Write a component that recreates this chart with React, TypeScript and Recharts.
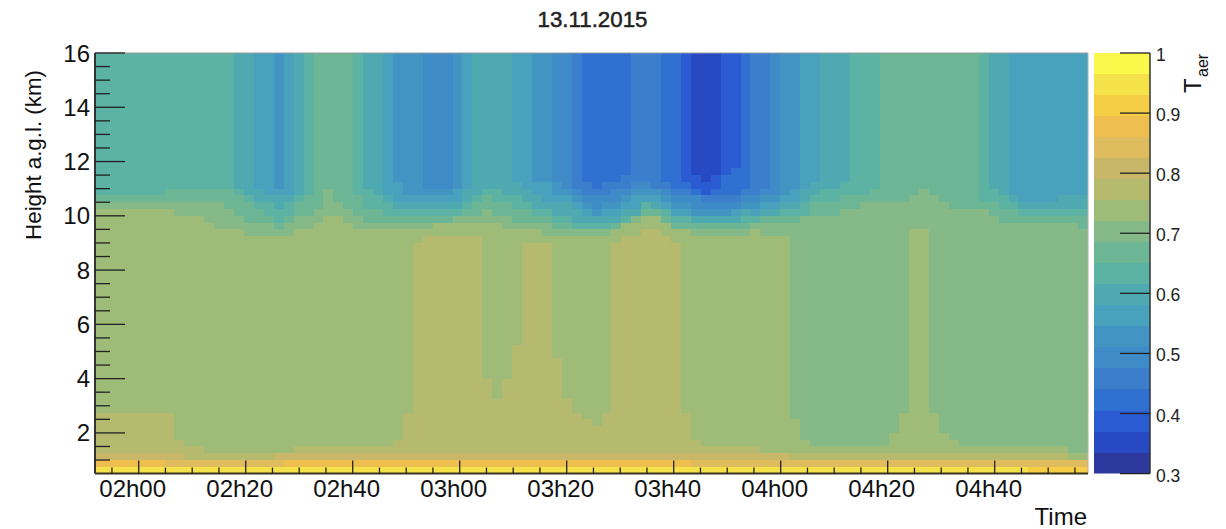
import { BarChart, Bar, XAxis, YAxis, ReferenceLine } from "recharts";

// T_aer colour scale, 20 levels between 0.3 and 1 (index = level)
const levelColors = [
  "#2E399E", "#2749C2", "#2B5BD3", "#3070D0", "#3C7DCC",
  "#3F8BC7", "#4295C3", "#49A2BD", "#4FA9B0", "#5CB2A3",
  "#6DB695", "#85BA88", "#9FBB78", "#B5BA6F", "#C8B769",
  "#DFBC5E", "#EEBF4E", "#F6CE45", "#F5E24A", "#F9F84B",
];
// first value runs from 0 up to the top of the lowest band
const colorBarValues = [
  0.335, 0.035, 0.035, 0.035, 0.035, 0.035, 0.035, 0.035, 0.035, 0.035,
  0.035, 0.035, 0.035, 0.035, 0.035, 0.035, 0.035, 0.035, 0.035, 0.035,
];
const colorBarTicks = [0.3, 0.4, 0.5, 0.6, 0.7, 0.8, 0.9, 1];

// minutes after midnight
const timeStart = 111.83;
const timeEnd = 297.44;
const timeTicks = [
  115, 120, 125, 130, 135, 140, 145, 150, 155, 160, 165, 170, 175,
  180, 185, 190, 195, 200, 205, 210, 215, 220, 225, 230, 235, 240,
  245, 250, 255, 260, 265, 270, 275, 280, 285, 290, 295,
];
const heightTicks = [
  1, 1.5, 2, 2.5, 3, 3.5, 4, 4.5, 5, 5.5, 6, 6.5, 7, 7.5, 8, 8.5,
  9, 9.5, 10, 10.5, 11, 11.5, 12, 12.5, 13, 13.5, 14, 14.5, 15, 15.5, 16,
];

// Height (km) of the top of the region with level >= N, one value per time column.
// 16 means the level reaches the top of the plot.
const top2 = [
  16, 16, 16, 16, 16, 16, 16, 16, 16, 16,
  16, 16, 16, 16, 16, 16, 16, 16, 16, 16,
  16, 16, 16, 16, 16, 16, 16, 16, 16, 16,
  16, 16, 16, 16, 16, 16, 16, 16, 16, 16,
  16, 16, 16, 16, 16, 16, 16, 16, 16, 16,
  16, 16, 16, 16, 16, 16, 16, 16, 16, 16,
  11.5, 11.25, 11.5, 16, 16, 16, 16, 16, 16, 16,
  16, 16, 16, 16, 16, 16, 16, 16, 16, 16,
  16, 16, 16, 16, 16, 16, 16, 16, 16, 16,
  16, 16, 16, 16, 16, 16, 16, 16, 16, 16,
];
const top3 = [
  16, 16, 16, 16, 16, 16, 16, 16, 16, 16,
  16, 16, 16, 16, 16, 16, 16, 16, 16, 16,
  16, 16, 16, 16, 16, 16, 16, 16, 16, 16,
  16, 16, 16, 16, 16, 16, 16, 16, 16, 16,
  16, 16, 16, 16, 16, 16, 16, 16, 16, 16,
  16, 16, 16, 16, 16, 16, 16, 16, 16, 11.25,
  11, 10.75, 11, 11.5, 11.75, 16, 16, 16, 16, 16,
  16, 16, 16, 16, 16, 16, 16, 16, 16, 16,
  16, 16, 16, 16, 16, 16, 16, 16, 16, 16,
  16, 16, 16, 16, 16, 16, 16, 16, 16, 16,
];
const top4 = [
  16, 16, 16, 16, 16, 16, 16, 16, 16, 16,
  16, 16, 16, 16, 16, 16, 16, 16, 16, 16,
  16, 16, 16, 16, 16, 16, 16, 16, 16, 16,
  16, 16, 16, 16, 16, 16, 16, 16, 16, 16,
  16, 16, 16, 16, 16, 16, 16, 16, 16, 11.25,
  11, 11.25, 11.25, 11.5, 16, 16, 16, 11.25, 11, 11,
  10.75, 10.75, 10.75, 10.75, 10.75, 11, 16, 16, 16, 16,
  16, 16, 16, 16, 16, 16, 16, 16, 16, 16,
  16, 16, 16, 16, 16, 16, 16, 16, 16, 16,
  16, 16, 16, 16, 16, 16, 16, 16, 16, 16,
];
const top5 = [
  16, 16, 16, 16, 16, 16, 16, 16, 16, 16,
  16, 16, 16, 16, 16, 16, 16, 16, 16, 16,
  16, 16, 16, 16, 16, 16, 16, 16, 16, 16,
  16, 16, 16, 16, 16, 16, 16, 16, 16, 16,
  16, 16, 16, 16, 16, 16, 16, 16, 11, 10.75,
  10.75, 10.75, 11, 11, 11.25, 11.25, 11, 11, 10.75, 10.75,
  10.75, 10.5, 10.5, 10.5, 10.5, 10.75, 10.75, 11, 16, 16,
  16, 16, 16, 16, 16, 16, 16, 16, 16, 16,
  16, 16, 16, 16, 16, 16, 16, 16, 16, 16,
  16, 16, 16, 16, 16, 16, 16, 16, 16, 16,
];
const top6 = [
  16, 16, 16, 16, 16, 16, 16, 16, 16, 16,
  16, 16, 16, 16, 16, 16, 16, 16, 16, 16,
  16, 16, 16, 16, 16, 16, 16, 16, 16, 16,
  16, 16, 16, 11, 11, 11, 16, 16, 16, 16,
  16, 16, 16, 16, 16, 16, 11.25, 11, 10.75, 10.5,
  10.25, 10.5, 10.5, 10.75, 11, 11, 11, 10.75, 10.5, 10.5,
  10.25, 10.25, 10.25, 10.25, 10.25, 10.5, 10.5, 10.75, 10.75, 16,
  16, 16, 16, 16, 16, 16, 16, 16, 16, 16,
  16, 16, 16, 16, 16, 16, 16, 16, 16, 16,
  16, 16, 16, 16, 16, 16, 16, 16, 16, 16,
];
const top7 = [
  16, 16, 16, 16, 16, 16, 16, 16, 16, 16,
  16, 16, 16, 16, 16, 16, 16, 16, 11, 16,
  16, 16, 16, 16, 16, 16, 16, 16, 16, 16,
  11.25, 10.75, 10.75, 10.75, 10.75, 10.75, 11, 16, 16, 16,
  16, 16, 16, 16, 11.25, 11.25, 10.75, 10.75, 10.5, 10.25,
  10, 10.25, 10.25, 10.5, 10.75, 10.75, 10.75, 10.5, 10.25, 10.25,
  10, 10, 10, 10, 10.25, 10.25, 10.25, 10.5, 10.5, 10.75,
  11, 16, 16, 16, 16, 16, 16, 16, 16, 16,
  16, 16, 16, 16, 16, 16, 16, 16, 16, 16,
  16, 16, 16, 16, 16, 16, 16, 16, 16, 16,
];
const top8 = [
  16, 16, 16, 16, 16, 16, 16, 16, 16, 16,
  16, 16, 16, 16, 16, 16, 11, 10.75, 10.75, 10.75,
  16, 16, 16, 16, 16, 16, 16, 16, 16, 10.75,
  10.5, 10.5, 10.5, 10.5, 10.5, 10.5, 10.5, 11, 16, 16,
  16, 16, 11.25, 11, 10.75, 10.5, 10.5, 10.5, 10.25, 10,
  10, 10, 10, 10.25, 10.25, 10.5, 10.5, 10.25, 10, 10,
  10, 10, 10, 10, 10, 10.25, 10, 10.25, 10.25, 10.5,
  10.5, 11, 11.25, 16, 16, 16, 16, 16, 16, 16,
  16, 16, 16, 16, 16, 16, 16, 16, 16, 16,
  16, 16, 10.75, 10.5, 10.5, 10.5, 10.5, 10.75, 10.75, 10.75,
];
const top9 = [
  16, 16, 16, 16, 16, 16, 16, 16, 16, 16,
  16, 16, 16, 16, 11, 10.75, 10.5, 10.5, 10.25, 10.5,
  10.75, 16, 16, 16, 16, 16, 16, 11, 10.75, 10.5,
  10.25, 10.25, 10.25, 10.25, 10.25, 10.25, 10.25, 10.5, 10.75, 11,
  11, 10.75, 10.75, 10.5, 10.25, 10.25, 10, 10, 9.75, 9.75,
  9.75, 9.75, 9.75, 10, 10, 10.5, 10.25, 10.25, 10, 10,
  9.75, 9.75, 9.75, 9.75, 9.75, 10, 10, 10, 10, 10.25,
  10.25, 10.5, 10.75, 11, 11, 11.25, 16, 16, 16, 16,
  16, 16, 16, 16, 16, 16, 16, 16, 16, 16,
  11, 10.75, 10.5, 10.25, 10.25, 10.25, 10.25, 10.25, 10.25, 10.25,
];
const top10 = [
  10.75, 10.75, 10.75, 10.75, 10.75, 10.75, 10.75, 11, 11, 11,
  11, 11, 11, 11, 10.75, 10.5, 10.25, 10, 9.75, 10,
  10.5, 10.75, 16, 16, 16, 16, 10.75, 10.25, 10.25, 10,
  10, 10, 10, 10, 10, 10, 10, 10.25, 10.5, 10.75,
  10.5, 10.5, 10.25, 10.25, 10, 10, 9.75, 9.75, 9.5, 9.5,
  9.5, 9.5, 9.75, 9.75, 10, 10.25, 10.25, 10, 9.75, 9.75,
  9.75, 9.75, 9.75, 9.75, 9.75, 9.75, 9.75, 10, 10, 10,
  10, 10, 10.5, 10.5, 10.5, 10.75, 10.75, 10.75, 11, 16,
  16, 16, 16, 16, 16, 16, 16, 16, 16, 10.5,
  10.5, 10.25, 10.25, 10, 10, 10, 10, 10, 10, 10,
];
const top11 = [
  10.5, 10.5, 10.5, 10.5, 10.5, 10.5, 10.5, 10.5, 10.5, 10.5,
  10.5, 10.5, 10.5, 10.25, 10, 9.75, 9.75, 9.75, 9.5, 9.75,
  10, 10, 10.25, 11, 10.5, 10.25, 10, 9.75, 9.75, 9.75,
  9.75, 9.75, 9.75, 9.75, 9.75, 9.75, 10, 10, 10, 10.25,
  10, 10, 9.75, 9.75, 9.75, 9.75, 9.5, 9.5, 9.5, 9.5,
  9.5, 9.5, 9.5, 9.75, 10, 10, 10, 9.75, 9.5, 9.5,
  9.5, 9.5, 9.5, 9.5, 9.5, 9.5, 9.75, 9.75, 9.75, 9.75,
  9.75, 10, 10, 10, 10, 10.25, 10.25, 10.5, 10.5, 10.5,
  10.5, 10.5, 10.75, 11, 10.75, 10.5, 10.25, 10.25, 10.25, 10.25,
  10, 9.75, 9.75, 9.75, 9.75, 9.75, 9.75, 9.75, 9.75, 9.5,
];
const top12 = [
  10.25, 10.25, 10.25, 10.25, 10.25, 10.25, 10.25, 10.25, 10, 10,
  10, 9.75, 9.5, 9.5, 9.5, 9.25, 9.25, 9.25, 9.25, 9.25,
  9.5, 9.5, 9.75, 10, 10, 9.75, 9.5, 9.5, 9.5, 9.5,
  9.5, 9.5, 9.5, 9.5, 9.75, 9.75, 9.75, 9.75, 9.75, 9.75,
  9.75, 9.5, 9.5, 9.5, 9.5, 9.25, 9.25, 9.25, 9.25, 9.25,
  9.25, 9.25, 9.5, 9.75, 9.75, 10, 10, 9.75, 9.5, 9.5,
  9.25, 9.25, 9.25, 9.25, 9.25, 9.25, 9.5, 9.25, 9.25, 9.25,
  2.5, 1.75, 1.5, 1.5, 1.5, 1.5, 1.5, 1.5, 1.5, 1.5,
  2, 2.75, 9.5, 9.5, 2.75, 2, 1.75, 1.5, 1.5, 1.5,
  1.5, 1.5, 1.5, 1.5, 1.5, 1.5, 1.5, 1.5, 1.25, 1.25,
];
const top13 = [
  2.75, 2.75, 2.75, 2.75, 2.75, 2.75, 2.75, 2.75, 1.75, 1.5,
  1.5, 1.25, 1.25, 1.25, 1.25, 1.25, 1.25, 1.25, 1.25, 1.25,
  1.5, 1.5, 1.5, 1.5, 1.5, 1.5, 1.5, 1.5, 1.5, 1.5,
  1.75, 2.75, 9, 9.25, 9.25, 9.25, 9.25, 9.25, 9.25, 4,
  3.25, 4, 5.25, 9, 9, 9, 4.75, 3.25, 2.75, 2.5,
  2.25, 2.75, 9, 9.25, 9.25, 9.5, 9.5, 9.25, 9, 2.75,
  1.75, 1.5, 1.5, 1.5, 1.5, 1.5, 1.5, 1.25, 1.25, 1.25,
  1.25, 1.25, 1.25, 1.25, 1.25, 1.25, 1.25, 1.25, 1.25, 1.25,
  1.25, 1.25, 1.25, 1.25, 1.25, 1.25, 1.25, 1.25, 1.25, 1.25,
  1.25, 1.25, 1.25, 1.25, 1.25, 1.25, 1.25, 1.25, 1, 1,
];
const top14 = [
  1.25, 1.25, 1.25, 1.25, 1.25, 1.25, 1.25, 1.25, 1.25, 1,
  1, 1, 1, 1, 1, 1, 1, 1, 1.25, 1.25,
  1.25, 1.25, 1.25, 1.25, 1.25, 1.25, 1.25, 1.25, 1.25, 1.25,
  1.25, 1.25, 1.25, 1.25, 1.25, 1.25, 1.25, 1.25, 1.25, 1.25,
  1.25, 1.25, 1.25, 1.25, 1.25, 1.25, 1.25, 1.25, 1.25, 1.25,
  1.25, 1.25, 1.25, 1.25, 1.25, 1.25, 1.25, 1.25, 1.25, 1.25,
  1.25, 1.25, 1.25, 1.25, 1.25, 1.25, 1.25, 1.25, 1.25, 1.25,
  1, 1, 1, 1, 1, 1, 1, 1, 1, 1,
  1, 1, 1, 1, 1, 1, 1, 1, 1, 1,
  1, 1, 1, 1, 1, 1, 1, 1, 1, 1,
];
const top15 = [
  1, 1, 1, 1, 1, 1, 1, 1, 1, 1,
  1, 1, 1, 1, 1, 1, 1, 1, 1, 1,
  1, 1, 1, 1, 1, 1, 1, 1, 1, 1,
  1, 1, 1, 1, 1, 1, 1, 1, 1, 1,
  1, 1, 1, 1, 1, 1, 1, 1, 1, 1,
  1, 1, 1, 1, 1, 1, 1, 1, 1, 1,
  1, 1, 1, 1, 1, 1, 1, 1, 1, 1,
  1, 1, 1, 1, 1, 1, 1, 1, 1, 1,
  1, 1, 1, 1, 1, 1, 1, 1, 1, 1,
  1, 1, 1, 1, 1, 1, 1, 1, 1, 1,
];
const top16 = [
  1, 1, 1, 1, 1, 1, 1, 0.75, 0.75, 0.75,
  0.75, 0.75, 0.75, 0.75, 0.75, 0.75, 0.75, 0.75, 0.75, 1,
  1, 1, 1, 1, 1, 1, 1, 1, 1, 1,
  1, 1, 1, 1, 1, 1, 1, 1, 1, 1,
  1, 1, 1, 1, 1, 1, 1, 1, 1, 1,
  1, 1, 1, 1, 1, 1, 1, 1, 1, 1,
  0.75, 0.75, 0.75, 0.75, 0.75, 0.75, 0.75, 0.75, 0.75, 0.75,
  0.75, 0.75, 0.75, 0.75, 0.75, 0.75, 0.75, 0.75, 0.75, 0.75,
  0.75, 0.75, 0.75, 0.75, 0.75, 0.75, 0.75, 0.75, 0.75, 0.75,
  0.75, 0.75, 0.75, 0.75, 0.75, 0.75, 0.75, 0.75, 0.75, 0.75,
];
const top17 = [
  0.75, 0.75, 0.75, 0.75, 0.75, 0.75, 0.75, 0.75, 0.75, 0.75,
  0.75, 0.75, 0.75, 0.75, 0.75, 0.75, 0.75, 0.75, 0.75, 0.75,
  0.75, 0.75, 0.75, 0.75, 0.75, 0.75, 0.75, 0.75, 0.75, 0.75,
  0.75, 0.75, 0.75, 0.75, 0.75, 0.75, 0.75, 0.75, 0.75, 0.75,
  0.75, 0.75, 0.75, 0.75, 0.75, 0.75, 0.75, 0.75, 0.75, 0.75,
  0.75, 0.75, 0.75, 0.75, 0.75, 0.75, 0.75, 0.75, 0.75, 0.75,
  0.75, 0.75, 0.75, 0.75, 0.75, 0.75, 0.75, 0.75, 0.75, 0.75,
  0.75, 0.75, 0.75, 0.75, 0.75, 0.75, 0.75, 0.75, 0.75, 0.75,
  0.75, 0.75, 0.75, 0.75, 0.75, 0.75, 0.75, 0.75, 0.75, 0.75,
  0.75, 0.75, 0.75, 0.75, 0.75, 0.75, 0.75, 0.75, 0.75, 0.75,
];
const top18 = [
  0.75, 0.75, 0.75, 0.75, 0.75, 0.75, 0.75, 0.75, 0.75, 0.75,
  0.75, 0.75, 0.75, 0.75, 0.75, 0.75, 0.75, 0.75, 0.75, 0.75,
  0.75, 0.75, 0.75, 0.75, 0.75, 0.75, 0.75, 0.75, 0.75, 0.75,
  0.75, 0.75, 0.75, 0.75, 0.75, 0.75, 0.75, 0.75, 0.75, 0.75,
  0.75, 0.75, 0.75, 0.75, 0.75, 0.75, 0.75, 0.75, 0.75, 0.75,
  0.75, 0.75, 0.75, 0.75, 0.75, 0.75, 0.75, 0.75, 0.75, 0.75,
  0.75, 0.75, 0.75, 0.75, 0.75, 0.75, 0.75, 0.75, 0.75, 0.75,
  0.75, 0.75, 0.75, 0.75, 0.75, 0.75, 0.75, 0.75, 0.75, 0.75,
  0.75, 0.75, 0.75, 0.75, 0.75, 0.75, 0.75, 0.75, 0.75, 0.75,
  0.75, 0.75, 0.75, 0.75, 0.5, 0.5, 0.5, 0.5, 0.5, 0.5,
];

// index 0 = level 2; level 1 always reaches the top of the plot
const contours = [
  top2, top3, top4, top5, top6, top7, top8, top9, top10,
  top11, top12, top13, top14, top15, top16, top17, top18,
];

// stacked thickness of each level in each column
const heatData = top2.map((_, col) => {
  const row: any = {
    col,
    minute: timeStart + ((col + 0.5) * (timeEnd - timeStart)) / top2.length,
  };
  for (let level = 1; level <= 18; level++) {
    const upper = level === 1 ? 16 : contours[level - 2][col];
    const lower = level === 18 ? 0 : contours[level - 1][col];
    row[`level${level}`] = Math.max(0, upper - lower);
  }
  return row;
});
const heatLevels = [18, 17, 16, 15, 14, 13, 12, 11, 10, 9, 8, 7, 6, 5, 4, 3, 2, 1];

const colorBarData = [
  Object.fromEntries(colorBarValues.map((v, i) => [`c${i}`, v])),
];

const font = "'Liberation Sans', Arial, sans-serif";
const ink = "#222";

const formatTime = (m: number) =>
  `${String(Math.floor(m / 60)).padStart(2, "0")}h${String(m % 60).padStart(2, "0")}`;

function TimeTick({ x, y, payload }: any) {
  const major = payload.value % 20 === 0;
  return (
    <g>
      <line x1={x} x2={x} y1={y} y2={y - (major ? 13 : 6)} stroke={ink} strokeWidth={1.3} />
      {major && (
        <text x={x - 6} y={497} textAnchor="middle" fontSize={24} fill="#111" fontFamily={font}>
          {formatTime(payload.value)}
        </text>
      )}
    </g>
  );
}

function HeightTick({ x, y, payload }: any) {
  const major = payload.value % 2 === 0;
  return (
    <g>
      <line x1={x} x2={x + (major ? 30 : 15)} y1={y} y2={y} stroke={ink} strokeWidth={1.3} />
      {major && (
        <text x={90} y={y + 8.5} textAnchor="end" fontSize={24} fill="#111" fontFamily={font}>
          {payload.value}
        </text>
      )}
    </g>
  );
}

function ColorBarTick({ x, y, payload }: any) {
  return (
    <g>
      <line x1={x} x2={x - 30} y1={y} y2={y} stroke={ink} strokeWidth={1.3} />
      <text x={x + 6} y={y + 8} fontSize={17.5} fill="#222" fontFamily={font}>
        {payload.value}
      </text>
    </g>
  );
}

export default function App() {
  return (
    <div style={{ position: "absolute", left: 0, top: 0, width: 1226, height: 529, background: "#fff" }}>
      <BarChart
        width={1226}
        height={529}
        data={heatData}
        barCategoryGap={0}
        barGap={0}
        margin={{ top: 53, right: 138, bottom: 15.4, left: 35 }}
      >
        <XAxis xAxisId="col" dataKey="col" hide height={0} />
        <YAxis
          width={60}
          type="number"
          domain={[0.5, 16]}
          allowDataOverflow
          ticks={heightTicks}
          interval={0}
          tickSize={0}
          tickMargin={0}
          tickLine={false}
          tick={HeightTick}
          axisLine={{ stroke: "#333", strokeWidth: 2 }}
        />
        {heatLevels.map((level) => (
          <Bar
            key={level}
            xAxisId="col"
            dataKey={`level${level}`}
            stackId="heat"
            fill={levelColors[level]}
            stroke="none"
            shapeRendering="crispEdges"
            isAnimationActive={false}
          />
        ))}
        <XAxis
          xAxisId="time"
          dataKey="minute"
          type="number"
          height={40}
          domain={[timeStart, timeEnd]}
          allowDataOverflow
          ticks={timeTicks}
          interval={0}
          tickSize={0}
          tickMargin={0}
          tickLine={false}
          tick={TimeTick}
          axisLine={{ stroke: "#3a3420", strokeWidth: 2 }}
        />
        <ReferenceLine xAxisId="time" y={16} stroke="#9a9a9a" strokeWidth={1} />
        <ReferenceLine xAxisId="time" x={timeEnd} stroke="#b0b0b0" strokeWidth={1} />
        <text
          x={592.5}
          y={27}
          textAnchor="middle"
          fontSize={22.3}
          fill="#222"
          stroke="#222"
          strokeWidth={0.5}
          fontFamily={font}
        >
          13.11.2015
        </text>
        <text x={1087} y={525} textAnchor="end" fontSize={24} fill="#111" fontFamily={font}>
          Time
        </text>
        <text
          transform="translate(41 155) rotate(-90)"
          textAnchor="middle"
          fontSize={22.3}
          fill="#111"
          fontFamily={font}
        >
          Height a.g.l. (km)
        </text>
      </BarChart>

      <div style={{ position: "absolute", left: 1090, top: 0 }}>
        <BarChart
          width={136}
          height={529}
          data={colorBarData}
          barCategoryGap={0}
          margin={{ top: 53, right: 16, bottom: 55.4, left: 4 }}
        >
          <XAxis hide height={0} />
          <YAxis
            orientation="right"
            width={60}
            type="number"
            domain={[0.3, 1]}
            allowDataOverflow
            ticks={colorBarTicks}
            interval={0}
            tickSize={0}
            tickMargin={0}
            tickLine={false}
            tick={ColorBarTick}
            axisLine={{ stroke: "#333", strokeWidth: 1.5 }}
          />
          {colorBarValues.map((_, i) => (
            <Bar
              key={i}
              dataKey={`c${i}`}
              stackId="bar"
              fill={levelColors[i]}
              stroke="none"
              shapeRendering="crispEdges"
              isAnimationActive={false}
            />
          ))}
          <text transform="translate(110.5 93) rotate(-90)" fontSize={24} fill="#111" fontFamily={font}>
            T
          </text>
          <text transform="translate(118 77) rotate(-90)" fontSize={16} fill="#111" fontFamily={font}>
            aer
          </text>
        </BarChart>
      </div>
    </div>
  );
}
